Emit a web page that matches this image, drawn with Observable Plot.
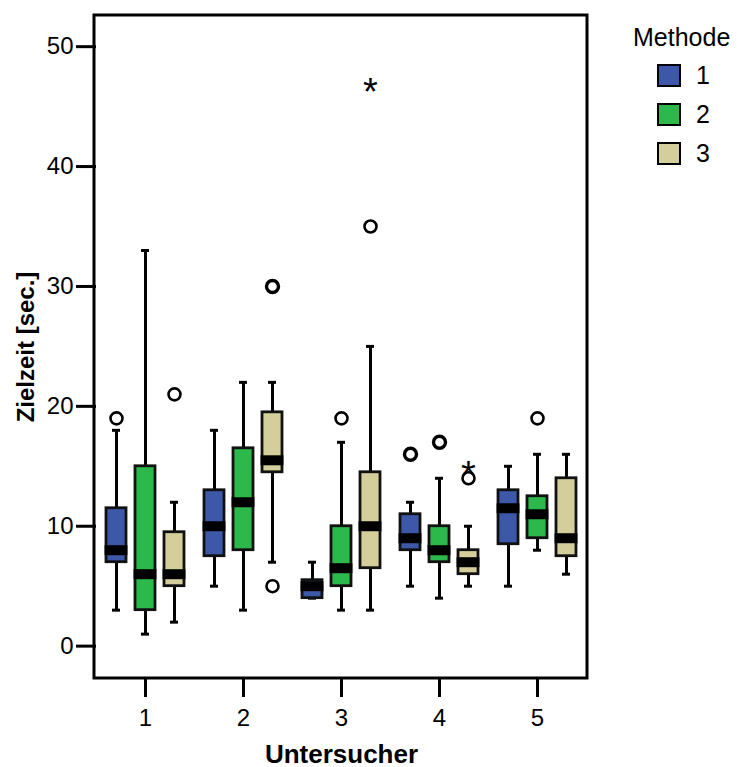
<!DOCTYPE html>
<html><head><meta charset="utf-8">
<script src="https://cdn.jsdelivr.net/npm/d3@7"></script>
<script src="https://cdn.jsdelivr.net/npm/@observablehq/plot@0.6"></script>
<style>
body{margin:0;background:#fff;font-family:"Liberation Sans",Arial,sans-serif;}
#wrap{position:relative;width:737px;height:767px;}
#legend{position:absolute;left:620px;top:20px;width:117px;font-size:25px;color:#000;}
#legend .title{position:absolute;left:13px;top:3px;white-space:nowrap;}
#legend .row{position:absolute;left:37px;height:24px;display:flex;align-items:center;}
#legend .sw{width:20px;height:19px;border:2.5px solid #000;margin-right:15px;}
g[aria-label="y-axis tick"] path, g[aria-label="fx-axis tick"] path{stroke-width:3px;}
g[aria-label="y-axis label"] text{font-weight:bold;font-size:24px;}
g[aria-label="fx-axis label"] text{font-weight:bold;font-size:26px;}
</style></head><body>
<div id="wrap"><div id="chart"></div><div id="legend"></div></div>
<script>
// Box statistics: one entry per Untersucher x Methode
const untersucher = [1,1,1, 2,2,2, 3,3,3, 4,4,4, 5,5,5];
const methode     = [1,2,3, 1,2,3, 1,2,3, 1,2,3, 1,2,3];
const lower  = [3,1,2,     5,3,7,       4,3,3,     5,4,5,   5,8,6];
const q1     = [7,3,5,     7.5,8,14.5,  4,5,6.5,   8,7,6,   8.5,9,7.5];
const median = [8,6,6,     10,12,15.5,  5,6.5,10,  9,8,7,   11.5,11,9];
const q3     = [11.5,15,9.5, 13,16.5,19.5, 5.5,10,14.5, 11,10,8, 13,12.5,14];
const upper  = [18,33,12,  18,22,22,    7,17,25,   12,14,10, 15,16,16];
// Outliers (circles); outN = number of cases sharing that value
const outU = [1,1,2,2,3,3,4,4,4,5];
const outM = [1,3,3,3,2,3,1,2,3,2];
const outV = [19,21,30,5,19,35,16,17,14,19];
const outN = [1,1,2,1,1,1,2,2,1,1];
// Extreme values (stars)
const extU = [3,4];
const extM = [3,3];
const extV = [47,15];
// Labels / categories
const untersucherKeys = [1,2,3,4,5];
const methodeKeys = [1,2,3];
const methodeColors = ["#3d58a8","#2db84b","#d4cf9a"];
const yTicks = [0,10,20,30,40,50];
const yDomain = [-2.7, 52.6];

const boxes = untersucher.map((u,i)=>({u, m: methode[i], lo: lower[i], q1: q1[i], med: median[i], q3: q3[i], hi: upper[i]}));
const outliers = outU.map((u,i)=>({u, m: outM[i], v: outV[i], n: outN[i]}));
const extremes = extU.map((u,i)=>({u, m: extM[i], v: extV[i]}));

const W=737, H=767, mL=94, mR=150, mT=15, mB=89;
const chart = Plot.plot({
  width: W, height: H,
  marginLeft: mL, marginRight: mR, marginTop: mT, marginBottom: mB,
  style: {fontFamily: "'Liberation Sans', Arial, sans-serif", fontSize: "24px", color: "#000", background: "#fff", overflow: "visible"},
  fx: {domain: untersucherKeys, padding: 0, label: "Untersucher", labelAnchor: "center", labelOffset: 84, tickSize: 19, tickPadding: 11, axis: "bottom"},
  x: {domain: methodeKeys, paddingInner: 0.31, paddingOuter: 0.33, axis: null},
  y: {domain: yDomain, ticks: yTicks, tickSize: 20, tickPadding: 3, label: "Zielzeit [sec.]", labelAnchor: "center", labelOffset: 80, labelArrow: "none"},
  color: {domain: methodeKeys, range: methodeColors},
  marks: [
    Plot.ruleX(boxes, {fx: "u", x: "m", y1: "lo", y2: "q1", stroke: "#000", strokeWidth: 3}),
    Plot.ruleX(boxes, {fx: "u", x: "m", y1: "q3", y2: "hi", stroke: "#000", strokeWidth: 3}),
    Plot.tickY(boxes, {fx: "u", x: "m", y: "lo", stroke: "#000", strokeWidth: 3, inset: 6}),
    Plot.tickY(boxes, {fx: "u", x: "m", y: "hi", stroke: "#000", strokeWidth: 3, inset: 6}),
    Plot.barY(boxes, {fx: "u", x: "m", y1: "q1", y2: "q3", fill: "m", stroke: "#111", strokeWidth: 2.8}),
    Plot.tickY(boxes, {fx: "u", x: "m", y: "med", stroke: "#000", strokeWidth: 10, insetLeft: -1.4, insetRight: -1.4}),
    Plot.dot(outliers, {fx: "u", x: "m", y: "v", r: 6, fill: "none", stroke: "#000", strokeWidth: d => d.n > 1 ? 3.4 : 2.6}),
    Plot.text(extremes, {fx: "u", x: "m", y: "v", text: () => "*", fontSize: 38, dy: 10, fill: "#000"})
  ]
});
document.getElementById("chart").appendChild(chart);
// plot frame
d3.select(chart).append("rect")
  .attr("x", mL).attr("y", mT).attr("width", W-mL-mR).attr("height", H-mT-mB)
  .attr("fill", "none").attr("stroke", "#000").attr("stroke-width", 3);

// legend
const leg = d3.select("#legend");
leg.append("div").attr("class","title").text("Methode");
methodeKeys.forEach((k,i)=>{
  const row = leg.append("div").attr("class","row").style("top", (43 + i*39) + "px");
  row.append("div").attr("class","sw").style("background", methodeColors[i]);
  row.append("span").text(k);
});
</script>
</body></html>
